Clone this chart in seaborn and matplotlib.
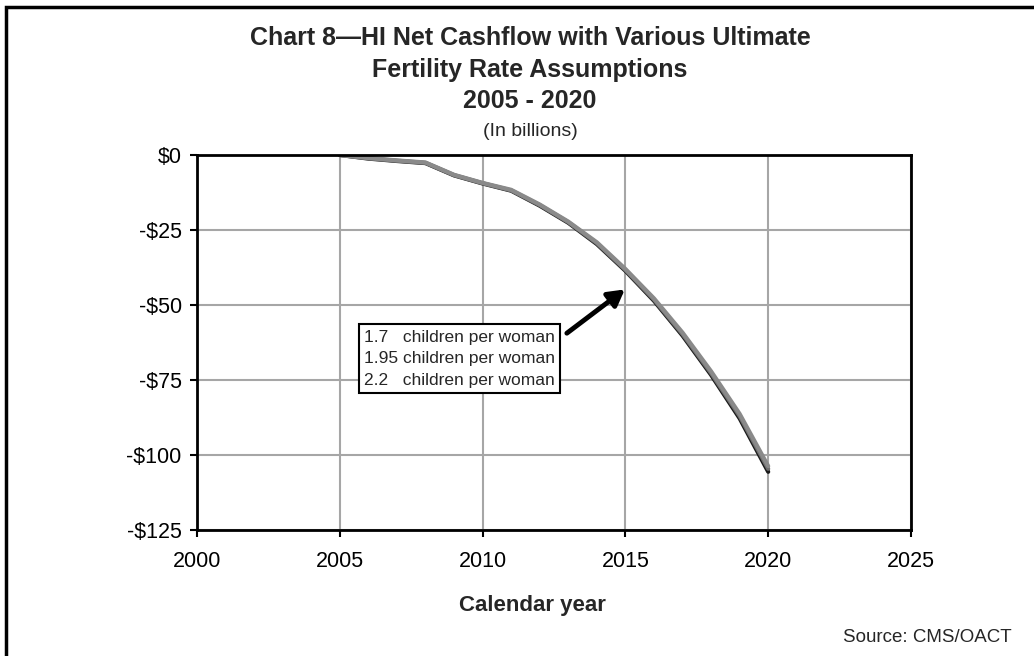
import matplotlib
matplotlib.use("Agg")
import matplotlib.pyplot as plt
import matplotlib.patches as mpatches
import seaborn as sns
import pandas as pd

# HI net cashflow (billions of dollars) under three ultimate fertility assumptions
years = list(range(2005, 2021))
rate_170 = [0.0, -1.2, -2.0, -2.7, -6.8, -9.5, -11.9, -16.9, -22.6, -29.7, -38.6, -48.6, -60.2, -73.3, -87.8, -105.6]
rate_195 = [0.0, -1.1, -1.9, -2.6, -6.7, -9.4, -11.8, -16.7, -22.4, -29.4, -38.3, -48.2, -59.7, -72.7, -87.0, -104.6]
rate_220 = [0.0, -1.0, -1.8, -2.5, -6.6, -9.3, -11.6, -16.5, -22.2, -29.1, -38.0, -47.8, -59.2, -72.1, -86.3, -103.7]
series_names = ["1.7", "1.95", "2.2"]

legend_lines = ["1.7   children per woman",
                "1.95 children per woman",
                "2.2   children per woman"]
y_ticks = [0, -25, -50, -75, -100, -125]
y_tick_labels = ["$0", "-$25", "-$50", "-$75", "-$100", "-$125"]
x_ticks = [2000, 2005, 2010, 2015, 2020, 2025]

df = pd.DataFrame({
    "year": years * 3,
    "value": rate_170 + rate_195 + rate_220,
    "series": sum([[n] * len(years) for n in series_names], []),
})

sns.set_theme(style="white")
plt.rcParams["font.family"] = ["Liberation Sans", "DejaVu Sans"]

fig = plt.figure(figsize=(10.34, 6.56), dpi=100)
ax = fig.add_axes([197 / 1034, 1 - 530 / 656, (911 - 197) / 1034, (530 - 155) / 656])

palette = {"1.7": "#1a1a1a", "1.95": "#6e6e6e", "2.2": "#8a8a8a"}
sns.lineplot(data=df, x="year", y="value", hue="series", hue_order=series_names,
             palette=palette, linewidth=3.0, ax=ax, legend=False, sort=True)

ax.set_xlim(2000, 2025)
ax.set_ylim(-125, 0)
ax.set_xticks(x_ticks)
ax.set_xticklabels([str(t) for t in x_ticks], fontsize=15.5)
ax.set_yticks(y_ticks)
ax.set_yticklabels(y_tick_labels, fontsize=15.5)
ax.grid(True, color="#a6a6a6", linewidth=1.5)
ax.set_axisbelow(True)
for side in ["left", "bottom", "top", "right"]:
    ax.spines[side].set_visible(True)
    ax.spines[side].set_color("black")
    ax.spines[side].set_linewidth(2.0)
ax.tick_params(axis="both", which="major", direction="out", length=5, width=1.5,
               color="black", left=True, bottom=True, labelcolor="black")
ax.tick_params(axis="x", pad=10)
ax.tick_params(axis="y", pad=6)
ax.set_xlabel("")
ax.set_ylabel("")

# Legend box with arrow pointing at the curves
ax.text(2005.85, -67.9, "\n".join(legend_lines), fontsize=12.5, va="center", ha="left",
        linespacing=1.55,
        bbox=dict(boxstyle="square,pad=0.3", facecolor="white", edgecolor="black", linewidth=1.5))
ax.annotate("", xy=(2014.98, -44.8), xytext=(2012.95, -59.4),
            arrowprops=dict(arrowstyle="-|>,head_length=0.8,head_width=0.45", lw=3.5,
                            color="black", shrinkA=0, shrinkB=0))

# Titles
title_x = 530 / 1034
fig.text(title_x, 1 - 38 / 656, "Chart 8\u2014HI Net Cashflow with Various Ultimate",
         ha="center", va="center", fontsize=18, fontweight="bold")
fig.text(title_x, 1 - 70 / 656, "Fertility Rate Assumptions",
         ha="center", va="center", fontsize=18, fontweight="bold")
fig.text(title_x, 1 - 101 / 656, "2005 - 2020",
         ha="center", va="center", fontsize=18, fontweight="bold")
fig.text(title_x, 1 - 131 / 656, "(In billions)",
         ha="center", va="center", fontsize=14)
fig.text(532 / 1034, 1 - 606 / 656, "Calendar year",
         ha="center", va="center", fontsize=16, fontweight="bold")
fig.text(1012 / 1034, 1 - 637 / 656, "Source: CMS/OACT",
         ha="right", va="center", fontsize=13.5)

# Outer chart frame
frame = mpatches.Rectangle((6 / 1034, -0.05), 1.2, 1 - 7 / 656 + 0.05,
                           transform=fig.transFigure, fill=False,
                           edgecolor="black", linewidth=2.5, clip_on=False)
fig.patches.append(frame)

fig.savefig("out.png", dpi=100)
